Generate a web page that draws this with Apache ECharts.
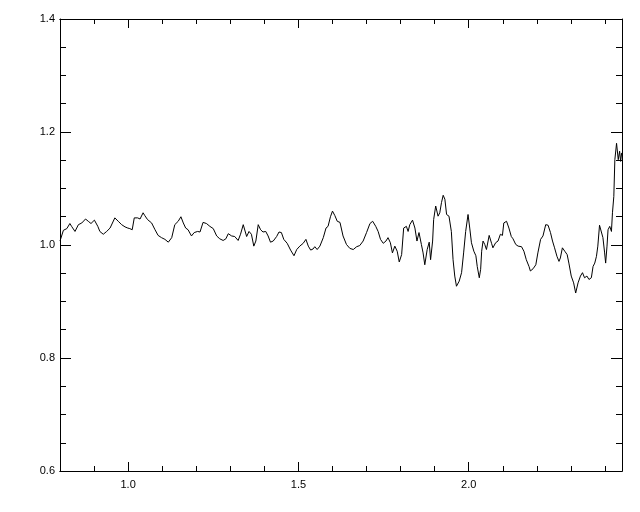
<!DOCTYPE html>
<html>
<head>
<meta charset="utf-8">
<script src="https://cdn.jsdelivr.net/npm/echarts@6/dist/echarts.min.js"></script>
<style>html,body{margin:0;padding:0;background:#fff}#c{width:640px;height:512px}</style>
</head>
<body>
<div id="c"></div>
<script>
// x positions of the traced curve
const xVals = [
0.800,0.810,0.820,0.829,0.834,0.844,0.854,0.864,0.875,0.883,0.891,0.901,0.911,0.917,0.927,0.937,0.947,0.961,0.971,0.981,0.991,0.999,
1.005,1.012,1.018,1.028,1.035,1.044,1.049,1.057,1.069,1.079,1.088,1.098,1.108,1.118,1.128,1.137,1.147,1.155,1.162,1.169,1.176,1.186,1.194,1.204,1.211,
1.220,1.230,1.240,1.250,1.260,1.269,1.279,1.287,1.294,1.304,1.313,1.323,1.330,1.338,1.343,1.348,1.355,1.362,1.369,1.375,1.382,1.389,1.396,
1.404,1.411,1.418,1.426,1.436,1.443,1.450,1.457,1.467,1.477,1.487,1.495,1.504,1.514,1.522,1.529,1.536,1.543,1.548,1.555,1.563,1.573,1.581,
1.587,1.594,1.600,1.607,1.614,1.622,1.631,1.641,1.651,1.661,1.671,1.680,1.690,1.700,1.710,1.718,1.727,1.734,1.741,1.749,1.757,1.763,1.770,
1.776,1.783,1.790,1.796,1.803,1.809,1.817,1.822,1.827,1.835,1.842,1.848,1.854,1.861,1.866,1.871,1.878,1.884,1.888,1.894,1.897,1.903,1.910,
1.915,1.920,1.925,1.930,1.935,1.942,1.949,1.954,1.959,1.964,1.972,1.979,1.985,1.991,1.998,2.003,2.008,2.015,2.021,2.025,2.031,2.035,
2.038,2.042,2.047,2.052,2.060,2.067,2.071,2.079,2.086,2.093,2.099,2.103,2.111,2.118,2.125,2.130,2.138,2.145,2.155,2.162,2.169,2.177,2.181,
2.189,2.197,2.203,2.211,2.218,2.226,2.233,2.240,2.246,2.252,2.259,2.265,2.269,2.275,2.282,2.289,2.294,2.301,2.308,2.314,2.321,2.328,2.334,
2.340,2.347,2.353,2.360,2.365,2.370,2.375,2.379,2.384,2.389,2.394,2.399,2.402,2.406,2.409,2.414,2.419,2.422,2.426,2.429,2.434,2.437,2.439,
2.443,2.446,2.449
];
// y values of the traced curve
const yVals = [
1.007,1.026,1.029,1.038,1.033,1.024,1.036,1.039,1.046,1.042,1.038,1.044,1.033,1.024,1.019,1.024,1.030,1.048,1.042,1.036,1.032,1.030,
1.029,1.027,1.048,1.048,1.046,1.057,1.052,1.045,1.039,1.027,1.017,1.013,1.010,1.005,1.013,1.036,1.042,1.050,1.039,1.030,1.027,1.016,1.022,1.024,1.023,
1.040,1.038,1.033,1.029,1.016,1.011,1.008,1.011,1.020,1.016,1.015,1.008,1.019,1.036,1.033,1.015,1.024,1.019,0.998,1.007,1.036,1.027,1.023,
1.024,1.016,1.005,1.007,1.015,1.023,1.022,1.010,1.003,0.991,0.981,0.992,0.998,1.003,1.010,0.998,0.991,0.993,0.997,0.992,0.998,1.013,1.030,
1.033,1.050,1.060,1.052,1.042,1.040,1.016,1.001,0.994,0.992,0.997,0.999,1.007,1.022,1.038,1.042,1.033,1.024,1.010,1.003,1.007,1.013,1.004,
0.986,0.998,0.989,0.970,0.983,1.030,1.033,1.024,1.036,1.044,1.030,1.007,1.022,1.001,0.986,0.965,0.992,1.005,0.974,1.007,1.045,1.069,1.051,
1.057,1.075,1.088,1.081,1.054,1.051,1.024,0.974,0.945,0.927,0.936,0.951,0.986,1.024,1.054,1.030,1.004,0.989,0.981,0.962,0.942,0.957,
0.989,1.007,1.001,0.992,1.017,1.003,0.995,1.004,1.007,1.019,1.017,1.039,1.042,1.030,1.015,1.011,1.001,0.998,0.997,0.989,0.974,0.962,0.954,
0.958,0.965,0.986,1.010,1.016,1.036,1.035,1.022,1.007,0.995,0.980,0.971,0.977,0.995,0.989,0.983,0.968,0.945,0.933,0.915,0.933,0.945,0.951,
0.942,0.945,0.939,0.942,0.962,0.968,0.980,0.998,1.035,1.033,1.013,0.986,0.968,0.998,1.027,1.033,1.024,1.057,1.086,1.151,1.180,1.183,1.151,
1.166,1.148,1.163
];
const xMajorTicks = [1.0, 1.5, 2.0];
const xMinorTicks = [0.9,1.1,1.2,1.3,1.4,1.6,1.7,1.8,1.9,2.1,2.2,2.3,2.4];
const xRange = [0.8, 2.45];
const yRange = [0.6, 1.4];
const yStep = 0.2;

const points = xVals.map((x, i) => [x, yVals[i]]);
const black = '#000';
const font = {fontFamily: 'Liberation Sans, Arial, sans-serif', fontSize: 11, color: black};

function xAxisDef(pos, ticks, len, labels) {
  return {
    type: 'value', position: pos, min: xRange[0], max: xRange[1],
    axisLine: {show: true, onZero: false, lineStyle: {color: black, width: 1}},
    axisTick: {show: true, inside: true, length: len, customValues: ticks, lineStyle: {color: black, width: 1}},
    axisLabel: labels ? Object.assign({show: true, margin: 8, customValues: ticks, formatter: v => v.toFixed(1)}, font) : {show: false},
    splitLine: {show: false}
  };
}
function yAxisDef(pos, labels) {
  return {
    type: 'value', position: pos, min: yRange[0], max: yRange[1], interval: yStep,
    axisLine: {show: true, onZero: false, lineStyle: {color: black, width: 1}},
    axisTick: {show: true, inside: true, length: 11, lineStyle: {color: black, width: 1}},
    minorTick: {show: true, splitNumber: 4, length: 6, lineStyle: {color: black, width: 1}},
    axisLabel: labels ? Object.assign({show: true, margin: 5, formatter: v => v.toFixed(1)}, font) : {show: false},
    splitLine: {show: false}, minorSplitLine: {show: false}
  };
}

const chart = echarts.init(document.getElementById('c'), null, {renderer: 'canvas'});
chart.setOption({
  animation: false,
  backgroundColor: '#fff',
  grid: {left: 60, right: 18, top: 19, bottom: 41, containLabel: false},
  xAxis: [
    xAxisDef('bottom', xMajorTicks, 9, true),
    xAxisDef('bottom', xMinorTicks, 5, false),
    xAxisDef('top', xMajorTicks, 9, false),
    xAxisDef('top', xMinorTicks, 5, false)
  ],
  yAxis: [yAxisDef('left', true), yAxisDef('right', false)],
  series: [{
    type: 'line', xAxisIndex: 0, yAxisIndex: 0, data: points,
    showSymbol: false, symbol: 'none', smooth: false,
    lineStyle: {color: black, width: 1}
  }]
});
</script>
</body>
</html>
